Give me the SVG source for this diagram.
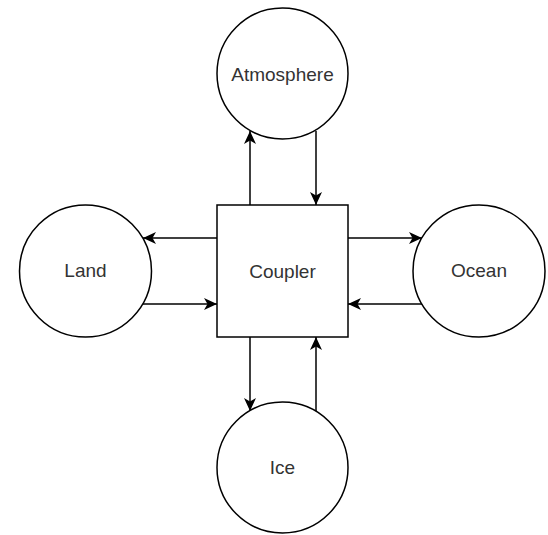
<svg xmlns="http://www.w3.org/2000/svg" width="548" height="535" viewBox="0 0 548 535">
<style>
.shape{fill:#ffffff;stroke:#000000;stroke-width:1.5}
.edge{fill:none;stroke:#000000;stroke-width:1.5}
.label{font-family:"Liberation Sans",Arial,sans-serif;font-size:19px;fill:#333333;text-anchor:middle;dominant-baseline:central}
</style>
<defs>
<marker id="arr" markerUnits="userSpaceOnUse" markerWidth="14" markerHeight="12" viewBox="0 0 14 12" refX="13" refY="6" orient="auto">
<path d="M0,0 L13,6 L0,12 L3.5,6 Z" fill="#000000"/>
</marker>
</defs>
<rect width="548" height="535" fill="#ffffff"/>
<g id="connectors">
<path class="edge" d="M250,205 L250,131" marker-end="url(#arr)"/>
<path class="edge" d="M316,131 L316,205" marker-end="url(#arr)"/>
<path class="edge" d="M217,238 L143,238" marker-end="url(#arr)"/>
<path class="edge" d="M143,304 L217,304" marker-end="url(#arr)"/>
<path class="edge" d="M348,238 L422,238" marker-end="url(#arr)"/>
<path class="edge" d="M422,304 L348,304" marker-end="url(#arr)"/>
<path class="edge" d="M250,337 L250,411" marker-end="url(#arr)"/>
<path class="edge" d="M316,411 L316,337" marker-end="url(#arr)"/>
</g>
<g id="coupler">
<rect class="shape" x="217" y="205" width="131" height="132"/>
<text class="label" x="282.5" y="271">Coupler</text>
</g>
<g id="atmosphere">
<circle class="shape" cx="282.5" cy="73.5" r="65.5"/>
<text class="label" x="282.5" y="74.5">Atmosphere</text>
</g>
<g id="land">
<circle class="shape" cx="85.5" cy="271" r="66"/>
<text class="label" x="85.5" y="270">Land</text>
</g>
<g id="ocean">
<circle class="shape" cx="479" cy="271" r="66"/>
<text class="label" x="479" y="270">Ocean</text>
</g>
<g id="ice">
<circle class="shape" cx="282.5" cy="467.5" r="65.5"/>
<text class="label" x="282.5" y="467">Ice</text>
</g>
</svg>
